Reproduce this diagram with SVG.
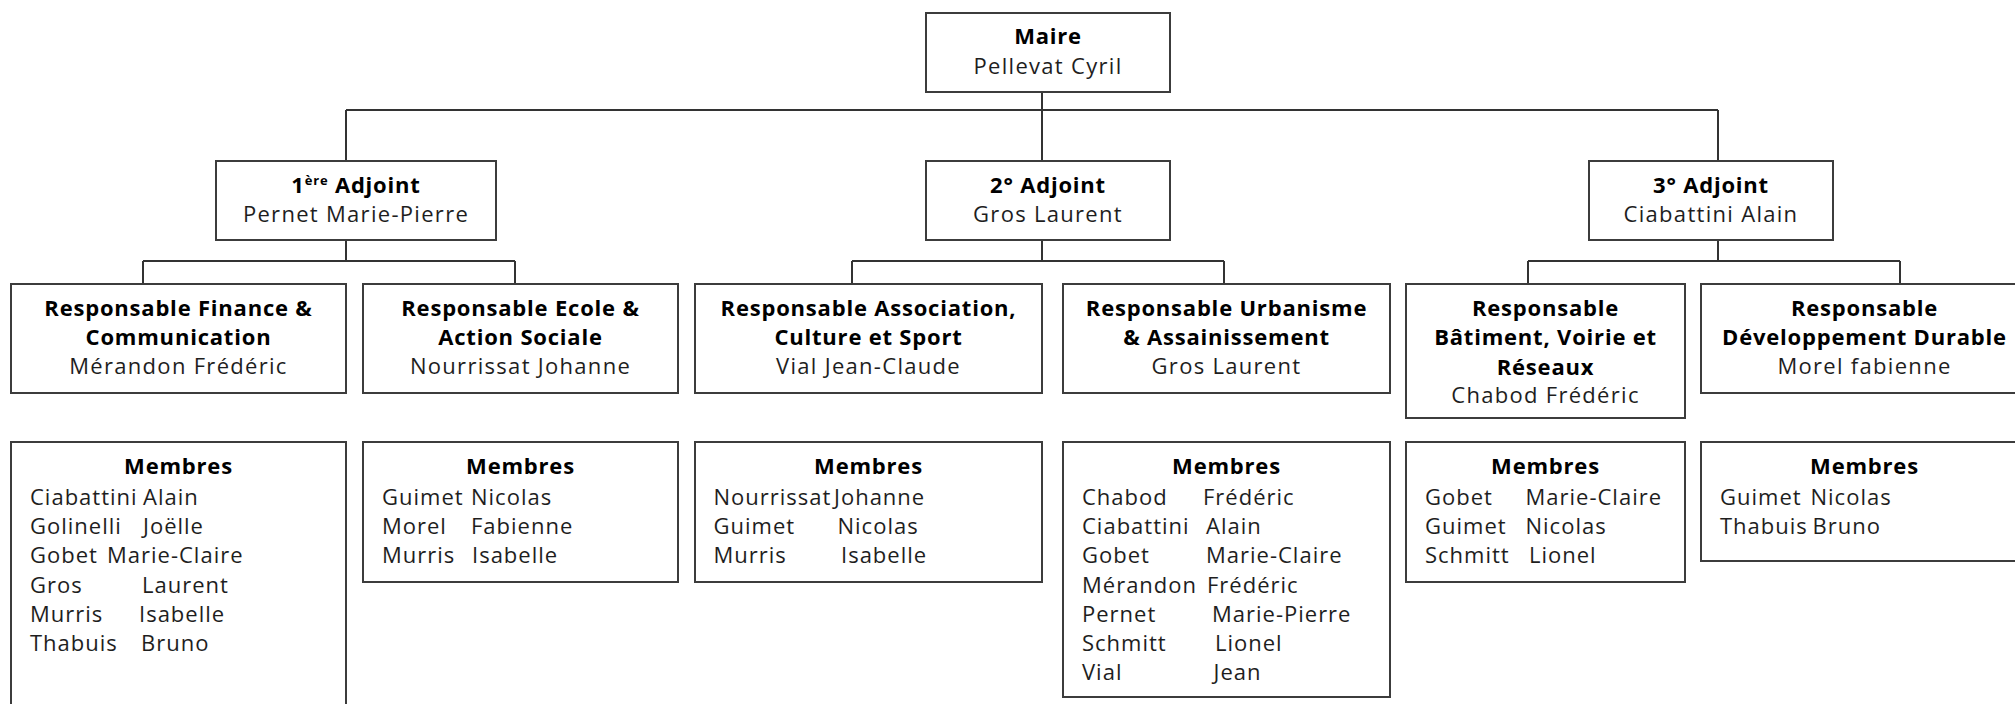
<svg xmlns="http://www.w3.org/2000/svg" width="2015" height="704" viewBox="0 0 2015 704">
<style>
.box{fill:#fff;stroke:#3c3c3c;stroke-width:2}
.t{font-family:"Open Sans","Liberation Sans",sans-serif;font-size:22px;letter-spacing:1px;fill:#1e1e1e}
.n{letter-spacing:1.3px}
.b{font-weight:bold;fill:#000;letter-spacing:0.8px}
.c{text-anchor:middle}
.conn{fill:none;stroke:#333;stroke-width:2}
</style>
<rect width="2015" height="704" fill="#fff"/>
<g id="connectors">
<path class="conn" d="M1042,92V161M346,110H1718M346,110V161M1718,110V161"/>
<path class="conn" d="M346,240V261M143,261H515M143,261V284M515,261V284"/>
<path class="conn" d="M1042,240V261M852,261H1224M852,261V284M1224,261V284"/>
<path class="conn" d="M1718,240V261M1528,261H1900M1528,261V284M1900,261V284"/>
</g>
<g id="maire">
<rect class="box" x="926" y="13" width="244" height="79"/>
<text class="t b c" x="1048" y="44">Maire</text>
<text class="t n c" x="1048" y="74">Pellevat Cyril</text>
</g>
<g id="adjoint1">
<rect class="box" x="216" y="161" width="280" height="79"/>
<text class="t b c" x="356" y="193">1<tspan font-size="13" dy="-8">ère</tspan><tspan dy="8"> Adjoint</tspan></text>
<text class="t n c" x="356" y="222">Pernet Marie-Pierre</text>
</g>
<g id="adjoint2">
<rect class="box" x="926" y="161" width="244" height="79"/>
<text class="t b c" x="1048" y="193">2° Adjoint</text>
<text class="t n c" x="1048" y="222">Gros Laurent</text>
</g>
<g id="adjoint3">
<rect class="box" x="1589" y="161" width="244" height="79"/>
<text class="t b c" x="1711" y="193">3° Adjoint</text>
<text class="t n c" x="1711" y="222">Ciabattini Alain</text>
</g>
<g id="resp-finance">
<rect class="box" x="11" y="284" width="335" height="109"/>
<text class="t b c" x="178.5" y="316">Responsable Finance &amp;</text>
<text class="t b c" x="178.5" y="345">Communication</text>
<text class="t n c" x="178.5" y="374">Mérandon Frédéric</text>
</g>
<g id="resp-ecole">
<rect class="box" x="363" y="284" width="315" height="109"/>
<text class="t b c" x="520.5" y="316">Responsable Ecole &amp;</text>
<text class="t b c" x="520.5" y="345">Action Sociale</text>
<text class="t n c" x="520.5" y="374">Nourrissat Johanne</text>
</g>
<g id="resp-association">
<rect class="box" x="695" y="284" width="347" height="109"/>
<text class="t b c" x="868.5" y="316">Responsable Association,</text>
<text class="t b c" x="868.5" y="345">Culture et Sport</text>
<text class="t n c" x="868.5" y="374">Vial Jean-Claude</text>
</g>
<g id="resp-urbanisme">
<rect class="box" x="1063" y="284" width="327" height="109"/>
<text class="t b c" x="1226.5" y="316">Responsable Urbanisme</text>
<text class="t b c" x="1226.5" y="345">&amp; Assainissement</text>
<text class="t n c" x="1226.5" y="374">Gros Laurent</text>
</g>
<g id="resp-batiment">
<rect class="box" x="1406" y="284" width="279" height="134"/>
<text class="t b c" x="1545.5" y="316">Responsable</text>
<text class="t b c" x="1545.5" y="345">Bâtiment, Voirie et</text>
<text class="t b c" x="1545.5" y="375">Réseaux</text>
<text class="t n c" x="1545.5" y="403">Chabod Frédéric</text>
</g>
<g id="resp-developpement">
<rect class="box" x="1701" y="284" width="327" height="109"/>
<text class="t b c" x="1864.5" y="316">Responsable</text>
<text class="t b c" x="1864.5" y="345">Développement Durable</text>
<text class="t n c" x="1864.5" y="374">Morel fabienne</text>
</g>
<g id="membres-finance">
<rect class="box" x="11" y="442" width="335" height="280"/>
<text class="t b c" x="178.5" y="474">Membres</text>
<text class="t" y="504.5"><tspan x="30">Ciabattini </tspan><tspan x="143">Alain</tspan></text>
<text class="t" y="534"><tspan x="30">Golinelli </tspan><tspan x="143">Joëlle</tspan></text>
<text class="t" y="563"><tspan x="30">Gobet </tspan><tspan x="107">Marie-Claire</tspan></text>
<text class="t" y="592.5"><tspan x="30">Gros </tspan><tspan x="142">Laurent</tspan></text>
<text class="t" y="622"><tspan x="30">Murris </tspan><tspan x="139">Isabelle</tspan></text>
<text class="t" y="651"><tspan x="30">Thabuis </tspan><tspan x="141">Bruno</tspan></text>
</g>
<g id="membres-ecole">
<rect class="box" x="363" y="442" width="315" height="140"/>
<text class="t b c" x="520.5" y="474">Membres</text>
<text class="t" y="504.5"><tspan x="382">Guimet </tspan><tspan x="471">Nicolas</tspan></text>
<text class="t" y="534"><tspan x="382">Morel </tspan><tspan x="471">Fabienne</tspan></text>
<text class="t" y="563"><tspan x="382">Murris </tspan><tspan x="472">Isabelle</tspan></text>
</g>
<g id="membres-association">
<rect class="box" x="695" y="442" width="347" height="140"/>
<text class="t b c" x="868.5" y="474">Membres</text>
<text class="t" y="504.5"><tspan x="713.5">Nourrissat </tspan><tspan x="834">Johanne</tspan></text>
<text class="t" y="534"><tspan x="713.5">Guimet </tspan><tspan x="837.5">Nicolas</tspan></text>
<text class="t" y="563"><tspan x="713.5">Murris </tspan><tspan x="841">Isabelle</tspan></text>
</g>
<g id="membres-urbanisme">
<rect class="box" x="1063" y="442" width="327" height="255"/>
<text class="t b c" x="1226.5" y="474">Membres</text>
<text class="t" y="504.5"><tspan x="1082">Chabod </tspan><tspan x="1203">Frédéric</tspan></text>
<text class="t" y="534"><tspan x="1082">Ciabattini </tspan><tspan x="1206">Alain</tspan></text>
<text class="t" y="563"><tspan x="1082">Gobet </tspan><tspan x="1206">Marie-Claire</tspan></text>
<text class="t" y="592.5"><tspan x="1082">Mérandon </tspan><tspan x="1207">Frédéric</tspan></text>
<text class="t" y="622"><tspan x="1082">Pernet </tspan><tspan x="1212">Marie-Pierre</tspan></text>
<text class="t" y="651"><tspan x="1082">Schmitt </tspan><tspan x="1215">Lionel</tspan></text>
<text class="t" y="680"><tspan x="1082">Vial </tspan><tspan x="1213.5">Jean</tspan></text>
</g>
<g id="membres-batiment">
<rect class="box" x="1406" y="442" width="279" height="140"/>
<text class="t b c" x="1545.5" y="474">Membres</text>
<text class="t" y="504.5"><tspan x="1425">Gobet </tspan><tspan x="1525.5">Marie-Claire</tspan></text>
<text class="t" y="534"><tspan x="1425">Guimet </tspan><tspan x="1525.5">Nicolas</tspan></text>
<text class="t" y="563"><tspan x="1425">Schmitt </tspan><tspan x="1529">Lionel</tspan></text>
</g>
<g id="membres-developpement">
<rect class="box" x="1701" y="442" width="327" height="119"/>
<text class="t b c" x="1864.5" y="474">Membres</text>
<text class="t" y="504.5"><tspan x="1720">Guimet </tspan><tspan x="1810.5">Nicolas</tspan></text>
<text class="t" y="534"><tspan x="1720">Thabuis </tspan><tspan x="1812.5">Bruno</tspan></text>
</g>
</svg>
